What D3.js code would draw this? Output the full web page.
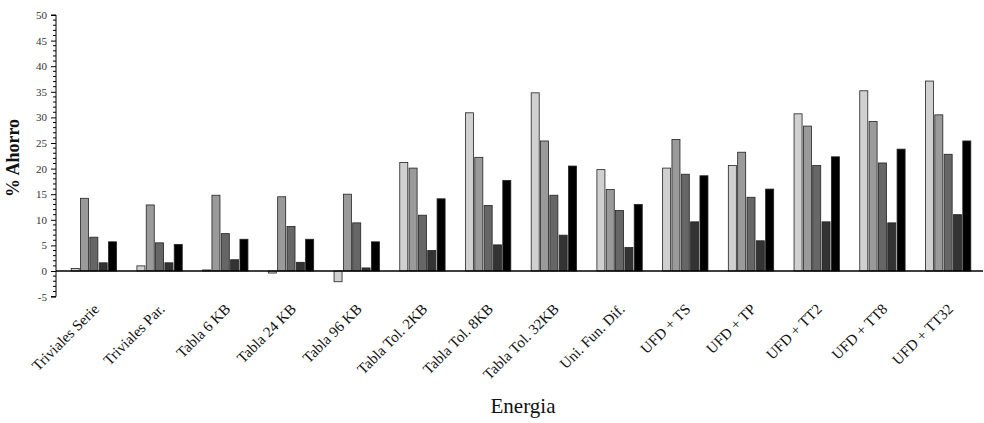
<!DOCTYPE html>
<html><head><meta charset="utf-8">
<script src="https://cdn.jsdelivr.net/npm/d3@7"></script>
<style>body{margin:0;background:#fff}svg{display:block}</style>
</head><body>
<svg id="c" width="984" height="423"></svg>
<script>
const categories = ["Triviales Serie","Triviales Par.","Tabla 6 KB","Tabla 24 KB","Tabla 96 KB","Tabla Tol. 2KB","Tabla Tol. 8KB","Tabla Tol. 32KB","Uni. Fun. Dif.","UFD + TS","UFD + TP","UFD + TT2","UFD + TT8","UFD + TT32"];
const seriesNames = ["S1","S2","S3","S4","S5"];
const s1 = [0.5, 1.0, 0.2, -0.4, -2.1, 21.2, 30.9, 34.8, 19.8, 20.1, 20.6, 30.7, 35.2, 37.1];
const s2 = [14.2, 12.9, 14.8, 14.5, 15.0, 20.1, 22.2, 25.4, 15.9, 25.7, 23.2, 28.3, 29.2, 30.5];
const s3 = [6.6, 5.5, 7.3, 8.7, 9.4, 10.9, 12.8, 14.8, 11.8, 18.9, 14.4, 20.6, 21.1, 22.8];
const s4 = [1.6, 1.6, 2.2, 1.7, 0.6, 4.0, 5.1, 7.0, 4.6, 9.6, 5.9, 9.6, 9.4, 11.0];
const s5 = [5.7, 5.2, 6.2, 6.2, 5.7, 14.1, 17.7, 20.5, 13.0, 18.6, 16.0, 22.3, 23.8, 25.4];
const yTicks = [-5,0,5,10,15,20,25,30,35,40,45,50];
const yTickLabels = ["-5","0","5","10","15","20","25","30","35","40","45","50"];
const colors = ["#d0d0d0","#9a9a9a","#666666","#333333","#000000"];

const series = [s1,s2,s3,s4,s5];
const svg = d3.select("#c");
const y = d3.scaleLinear().domain([-5,50]).range([296.6,15]);
const x0 = d3.scaleBand().domain(categories).range([61,981]).paddingInner(0.31).paddingOuter(0.155);
const x1 = d3.scaleBand().domain(seriesNames).range([0,x0.bandwidth()]).paddingInner(0.14);
const axisX = 56;

// bars
const g = svg.append("g");
categories.forEach((c,i)=>{
  series.forEach((s,j)=>{
    const v = s[i];
    g.append("rect")
      .attr("x", x0(c)+x1(seriesNames[j]))
      .attr("y", y(Math.max(0,v)))
      .attr("width", x1.bandwidth())
      .attr("height", Math.abs(y(v)-y(0)))
      .attr("fill", colors[j])
      .attr("stroke", "#222")
      .attr("stroke-width", 0.8);
  });
});

// y axis
const yAxis = d3.axisLeft(y).tickValues(yTicks).tickSize(5).tickFormat((d,i)=>yTickLabels[i]);
const ya = svg.append("g").attr("transform",`translate(${axisX},0)`).call(yAxis);
ya.select(".domain").attr("stroke","#000").attr("d",`M-5,${y(50)}H0V${y(-5)}H-5`);
ya.selectAll("text").attr("font-family","Liberation Serif").attr("font-size",11).attr("fill","#333").attr("x",-9);
const minor = d3.range(-5,51,1).filter(v=>v%5!==0);
svg.append("g").selectAll("line").data(minor).join("line")
  .attr("x1",axisX-3).attr("x2",axisX).attr("y1",d=>y(d)).attr("y2",d=>y(d))
  .attr("stroke","#000").attr("stroke-width",1);

// x axis line at zero
svg.append("line").attr("x1",axisX).attr("x2",983).attr("y1",y(0)).attr("y2",y(0))
  .attr("stroke","#000").attr("stroke-width",1.5);

// category labels
svg.append("g").selectAll("text").data(categories).join("text")
  .attr("transform",d=>`translate(${x0(d)+x0.bandwidth()/2+6},${310}) rotate(-45)`)
  .attr("text-anchor","end")
  .attr("font-family","Liberation Serif").attr("font-size",15).attr("fill","#111")
  .text(d=>d);

// titles
svg.append("text").attr("x",523).attr("y",413).attr("text-anchor","middle")
  .attr("font-family","Liberation Serif").attr("font-size",21).attr("fill","#111").text("Energia");
svg.append("text").attr("transform","translate(19,158) rotate(-90)").attr("text-anchor","middle")
  .attr("font-family","Liberation Serif").attr("font-weight","bold").attr("font-size",18).attr("fill","#111").text("% Ahorro");
</script>
</body></html>
